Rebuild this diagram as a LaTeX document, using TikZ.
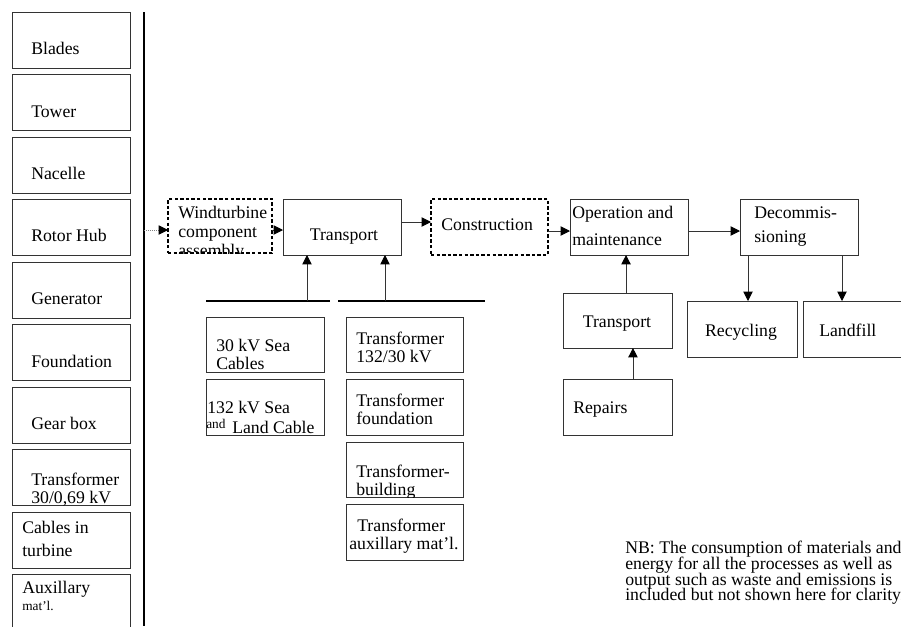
\documentclass[tikz,border=0pt]{standalone}
\usepackage{fontspec}
\setmainfont{Liberation Serif}
\usepackage{tikz}
\usetikzlibrary{arrows.meta,positioning}

\newcommand\notefont{\fontsize{13.3}{11.8}\selectfont\setlength{\lineskiplimit}{-10pt}}

\tikzset{
  box/.style 2 args={draw=black!80, line width=0.6pt, inner sep=0pt, outer sep=0pt,
    anchor=north west, minimum width=#1*0.75pt, minimum height=#2*0.75pt},
  dbox/.style 2 args={box={#1}{#2}, draw=black, line width=0.9pt, dash pattern=on 2.6pt off 1.6pt},
  txt/.style={anchor=base west, inner sep=0pt, font=\fontsize{13.3}{15}\selectfont},
  ctxt/.style={txt, anchor=base},
  smalltxt/.style={txt, font=\fontsize{10}{12}\selectfont},
  arr/.style={draw=black!80, line width=0.7pt, -{Triangle[length=7pt,width=7pt,color=black]}},
  bus/.style={line width=1.6pt},
}

\begin{document}
\begin{tikzpicture}[x=0.75pt,y=-0.75pt]
\useasboundingbox (0,0) rectangle (901,626);
\clip (0,0) rectangle (901,626);

% components of the turbine
\node[box={118}{56}] (blades)  at (12,12)  {};
\node[box={118}{56}] (tower)   at (12,74)  {};
\node[box={118}{56}] (nacelle) at (12,137) {};
\node[box={118}{56}] (hub)     at (12,199) {};
\node[box={118}{56}] (gen)     at (12,262) {};
\node[box={118}{56}] (found)   at (12,324) {};
\node[box={118}{56}] (gear)    at (12,387) {};
\node[box={118}{56}] (trafo)   at (12,449) {};
\node[box={118}{56}] (cabin)   at (12,512) {};
\node[box={118}{56}] (aux)     at (12,574) {};

\node[txt] (tblades)  at (31,54)  {Blades};
\node[txt] (ttower)   at (31,117) {Tower};
\node[txt] (tnacelle) at (31,179) {Nacelle};
\node[txt] (thub)     at (31,241) {Rotor Hub};
\node[txt] (tgen)     at (31,304) {Generator};
\node[txt] (tfound)   at (31,367) {Foundation};
\node[txt] (tgear)    at (31,429) {Gear box};
\begin{scope}
\clip (trafo.north west) rectangle (trafo.south east);
\node[txt] (ttrafoA) at (31,485) {Transformer};
\node[txt] (ttrafoB) at (31,503) {30/0,69 kV};
\end{scope}
\node[txt] (tcabinA) at (22,533) {Cables in};
\node[txt] (tcabinB) at (22,556) {turbine};
\node[txt] (tauxA) at (22,593) {Auxillary};
\node[smalltxt] (tauxB) at (22,610) {mat'l.};

\draw[line width=1.8pt] (144,12) -- (144,626);
\coordinate (vl) at (144,230);

% main chain
\node[dbox={104}{54}] (wind)   at (168,199) {};
\node[box={118}{56}]  (trans)  at (283,199) {};
\node[dbox={117}{56}] (cons)   at (431,199) {};
\node[box={118}{56}]  (op)     at (570,199) {};
\node[box={118}{56}]  (decom)  at (740,199) {};
\node[box={109}{55}]  (trans2) at (563,293) {};
\node[box={109}{56}]  (repair) at (563,379) {};
\node[box={110}{56}]  (recyc)  at (687,301) {};
\node[box={110}{56}]  (land)   at (803,301) {};

\node[txt] (twindA) at (178,218) {Windturbine};
\node[txt] (twindB) at (178,237) {component};
\begin{scope}
\clip (wind.north west) rectangle (wind.south east);
\node[txt] (twindC) at (178,256) {assembly};
\end{scope}
\node[ctxt] (ttrans)  at (344,240) {Transport};
\node[txt]  (tcons)   at (441,230) {Construction};
\node[txt]  (topA)    at (572,218) {Operation and};
\node[txt]  (topB)    at (572,245) {maintenance};
\node[txt]  (tdecomA) at (754,218) {Decommis-};
\node[txt]  (tdecomB) at (754,242) {sioning};
\node[ctxt] (ttrans2) at (617,327) {Transport};
\node[txt]  (trepair) at (573,413) {Repairs};
\node[ctxt] (trecyc)  at (741,336) {Recycling};
\node[txt]  (tland)   at (819,336) {Landfill};

% cables and transformer station
\draw[bus] (206,301) -- (330,301);
\draw[bus] (338,301) -- (485,301);
\coordinate (busA) at (307,301);
\coordinate (busB) at (385,301);

\node[box={118}{55}] (cab30)  at (206,317) {};
\node[box={118}{56}] (cab132) at (206,379) {};
\node[box={117}{55}] (trA)    at (346,317) {};
\node[box={117}{56}] (trB)    at (346,379) {};
\node[box={117}{55}] (trC)    at (346,442) {};
\node[box={117}{56}] (trD)    at (346,504) {};

\node[txt] (tcab30A)  at (216,351) {30 kV Sea};
\node[txt] (tcab30B)  at (216,369) {Cables};
\node[txt] (tcab132A) at (207,413) {132 kV Sea};
\node[smalltxt] (tcab132B) at (206,428) {and};
\node[txt] (tcab132C) at (232,433) {Land Cable};
\node[txt] (ttrAA) at (356,344) {Transformer};
\node[txt] (ttrAB) at (356,362) {132/30 kV};
\node[txt] (ttrBA) at (356,406) {Transformer};
\node[txt] (ttrBB) at (356,424) {foundation};
\begin{scope}
\clip (trC.north west) rectangle (trC.south east);
\node[txt] (ttrCA) at (356,477) {Transformer-};
\node[txt] (ttrCB) at (356,495) {building};
\end{scope}
\node[txt] (ttrDA) at (357,531) {Transformer};
\node[txt] (ttrDB) at (349,549) {auxillary mat'l.};

% arrows
\draw[arr, draw=gray, line width=0.5pt, densely dotted] (vl) -- (vl -| wind.west);
\draw[arr] ([yshift=-3pt]wind.east) -- ([yshift=-3pt]wind.east -| trans.west);
\draw[arr] ([yshift=3.75pt]trans.east) -- ([yshift=3.75pt]trans.east -| cons.west);
\draw[arr] ([yshift=-3pt]cons.east) -- ([yshift=-3pt]cons.east -| op.west);
\draw[arr] ([yshift=-3pt]op.east) -- ([yshift=-3pt]op.east -| decom.west);
\draw[arr] (busA) -- (busA |- trans.south);
\draw[arr] (busB) -- (busB |- trans.south);
\draw[arr] ([xshift=6.4pt]trans2.north) -- ([xshift=6.4pt]trans2.north |- op.south);
\draw[arr] ([xshift=11.6pt]repair.north) -- ([xshift=11.6pt]repair.north |- trans2.south);
\draw[arr] ([xshift=-38.25pt]decom.south) -- ([xshift=-38.25pt]decom.south |- recyc.north);
\draw[arr] ([xshift=32.25pt]decom.south) -- ([xshift=32.25pt]decom.south |- land.north);

% note
\node[txt, anchor=north west, align=left, font=\notefont] (nb) at (625,541)
  {NB: The consumption of materials and\\
   energy for all the processes as well as\\
   output such as waste and emissions is\\
   included but not shown here for clarity.};
\end{tikzpicture}
\end{document}
